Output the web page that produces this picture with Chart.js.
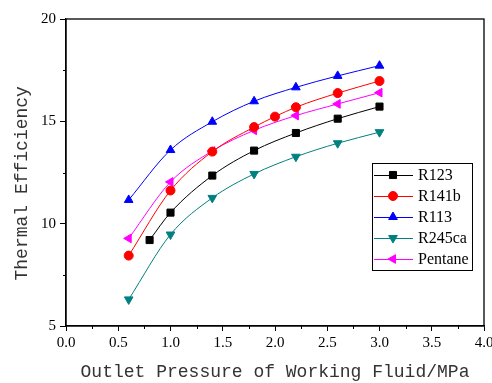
<!DOCTYPE html>
<html>
<head>
<meta charset="utf-8">
<script src="https://cdn.jsdelivr.net/npm/chart.js@4"></script>
<style>
  html, body { margin: 0; padding: 0; background: #fff; }
  #wrap { width: 492px; height: 383px; }
</style>
</head>
<body>
<div id="wrap"><canvas id="effChart"></canvas></div>
<script>
// 読み取り値（出口圧力 MPa / 熱効率 %）
const seriesNames = ['R123', 'R141b', 'R113', 'R245ca', 'Pentane'];
const pressR123 = [0.8, 1.0, 1.4, 1.8, 2.2, 2.6, 3.0];
const effR123 = [9.2, 10.54, 12.35, 13.57, 14.43, 15.13, 15.72];
const pressR141b = [0.6, 1.0, 1.4, 1.8, 2.0, 2.2, 2.6, 3.0];
const effR141b = [8.44, 11.62, 13.52, 14.72, 15.23, 15.69, 16.38, 16.97];
const pressR113 = [0.6, 1.0, 1.4, 1.8, 2.2, 2.6, 3.0];
const effR113 = [11.16, 13.6, 14.98, 15.98, 16.66, 17.22, 17.72];
const pressR245ca = [0.6, 1.0, 1.4, 1.8, 2.2, 2.6, 3.0];
const effR245ca = [6.3, 9.47, 11.26, 12.43, 13.27, 13.93, 14.47];
const pressPentane = [0.6, 1.0, 1.4, 1.8, 2.2, 2.6, 3.0];
const effPentane = [9.28, 12.04, 13.55, 14.56, 15.28, 15.85, 16.4];

const xMinorTicks = [0.25, 0.75, 1.25, 1.75, 2.25, 2.75, 3.25, 3.75];
const yMinorTicks = [7.5, 12.5, 17.5];

const toPoints = (xs, ys) => xs.map((x, i) => ({ x: x, y: ys[i] }));

function makeSet(label, xs, ys, color, style, rot, radius) {
    return {
        label: label,
        data: toPoints(xs, ys),
        borderColor: color,
        backgroundColor: color,
        borderWidth: 1,
        pointStyle: style,
        pointRotation: rot,
        pointRadius: radius,
        pointHoverRadius: radius,
        pointBorderWidth: 1,
        tension: 0.4,
        cubicInterpolationMode: 'monotone'
    };
}

// 枠線と副目盛り
const framePlugin = {
    id: 'frame',
    afterDraw(chart) {
        const { ctx, chartArea: a, scales } = chart;
        ctx.save();
        ctx.strokeStyle = '#000';
        ctx.lineWidth = 1.3;
        ctx.strokeRect(a.left, a.top, a.right - a.left, a.bottom - a.top);
        ctx.lineWidth = 1;
        ctx.beginPath();
        xMinorTicks.forEach(v => {
            const px = Math.round(scales.x.getPixelForValue(v)) + 0.5;
            ctx.moveTo(px, a.bottom);
            ctx.lineTo(px, a.bottom + 3);
        });
        yMinorTicks.forEach(v => {
            const py = Math.round(scales.y.getPixelForValue(v)) + 0.5;
            ctx.moveTo(a.left, py);
            ctx.lineTo(a.left - 3, py);
        });
        ctx.stroke();
        ctx.restore();
    }
};

// 凡例（プロット内右下）
const boxLegendPlugin = {
    id: 'boxLegend',
    afterDraw(chart) {
        const ctx = chart.ctx;
        const left = 372, top = 163, w = 100, rowH = 21;
        const h = rowH * chart.data.datasets.length + 2;
        ctx.save();
        ctx.fillStyle = '#fff';
        ctx.fillRect(left, top, w, h);
        ctx.strokeStyle = '#000';
        ctx.lineWidth = 1;
        ctx.strokeRect(left + 0.5, top + 0.5, w, h);
        ctx.font = '16px "Liberation Serif", serif';
        ctx.textBaseline = 'middle';
        chart.data.datasets.forEach((ds, i) => {
            const cy = top + 12 + i * rowH;
            ctx.strokeStyle = ds.borderColor;
            ctx.lineWidth = 1;
            ctx.beginPath();
            ctx.moveTo(left + 2, cy + 0.5);
            ctx.lineTo(left + 41, cy + 0.5);
            ctx.stroke();
            ctx.fillStyle = ds.backgroundColor;
            Chart.helpers.drawPoint(ctx, {
                pointStyle: ds.pointStyle,
                rotation: ds.pointRotation,
                radius: ds.pointRadius,
                borderWidth: 1
            }, left + 21, cy);
            ctx.fillStyle = '#000';
            ctx.fillText(ds.label, left + 46, cy + 1);
        });
        ctx.restore();
    }
};

const tickFont = { family: '"Liberation Serif", serif', size: 15 };
const titleFont = { family: '"Liberation Mono", monospace', size: 18 };

new Chart(document.getElementById('effChart'), {
    type: 'line',
    data: {
        datasets: [
            makeSet(seriesNames[0], pressR123, effR123, '#000000', 'rect', 0, 5),
            makeSet(seriesNames[1], pressR141b, effR141b, '#ff0000', 'circle', 0, 4.5),
            makeSet(seriesNames[2], pressR113, effR113, '#0000ff', 'triangle', 0, 5),
            makeSet(seriesNames[3], pressR245ca, effR245ca, '#008080', 'triangle', 180, 5),
            makeSet(seriesNames[4], pressPentane, effPentane, '#ff00ff', 'triangle', 270, 5)
        ]
    },
    options: {
        responsive: true,
        maintainAspectRatio: false,
        animation: false,
        layout: { padding: { top: 19, right: 8, left: 0, bottom: 0 } },
        plugins: {
            legend: { display: false },
            tooltip: { enabled: false }
        },
        scales: {
            x: {
                type: 'linear',
                min: 0, max: 4,
                ticks: {
                    stepSize: 0.5,
                    color: '#000',
                    font: tickFont,
                    padding: 3,
                    maxRotation: 0,
                    callback: v => v.toFixed(1)
                },
                grid: { drawOnChartArea: false, drawTicks: true, tickLength: 5, color: '#000' },
                border: { display: true, color: '#000', width: 1.3 },
                title: {
                    display: true,
                    text: 'Outlet Pressure of Working Fluid/MPa',
                    color: '#333',
                    font: titleFont,
                    padding: { top: 0, bottom: 0 }
                },
                afterFit(scale) {
                    scale.height = 57;
                    scale.paddingLeft = 0;
                    scale.paddingRight = 0;
                }
            },
            y: {
                type: 'linear',
                min: 5, max: 20,
                ticks: {
                    stepSize: 5,
                    color: '#000',
                    font: tickFont,
                    padding: 4
                },
                grid: { drawOnChartArea: false, drawTicks: true, tickLength: 6, color: '#000' },
                border: { display: true, color: '#000', width: 1.3 },
                title: {
                    display: true,
                    text: 'Thermal Efficiency  ',
                    color: '#333',
                    font: titleFont,
                    padding: { top: 11, bottom: 0 }
                },
                afterFit(scale) {
                    scale.width = 66;
                    scale.paddingTop = 0;
                    scale.paddingBottom = 0;
                }
            }
        }
    },
    plugins: [framePlugin, boxLegendPlugin]
});
</script>
</body>
</html>
